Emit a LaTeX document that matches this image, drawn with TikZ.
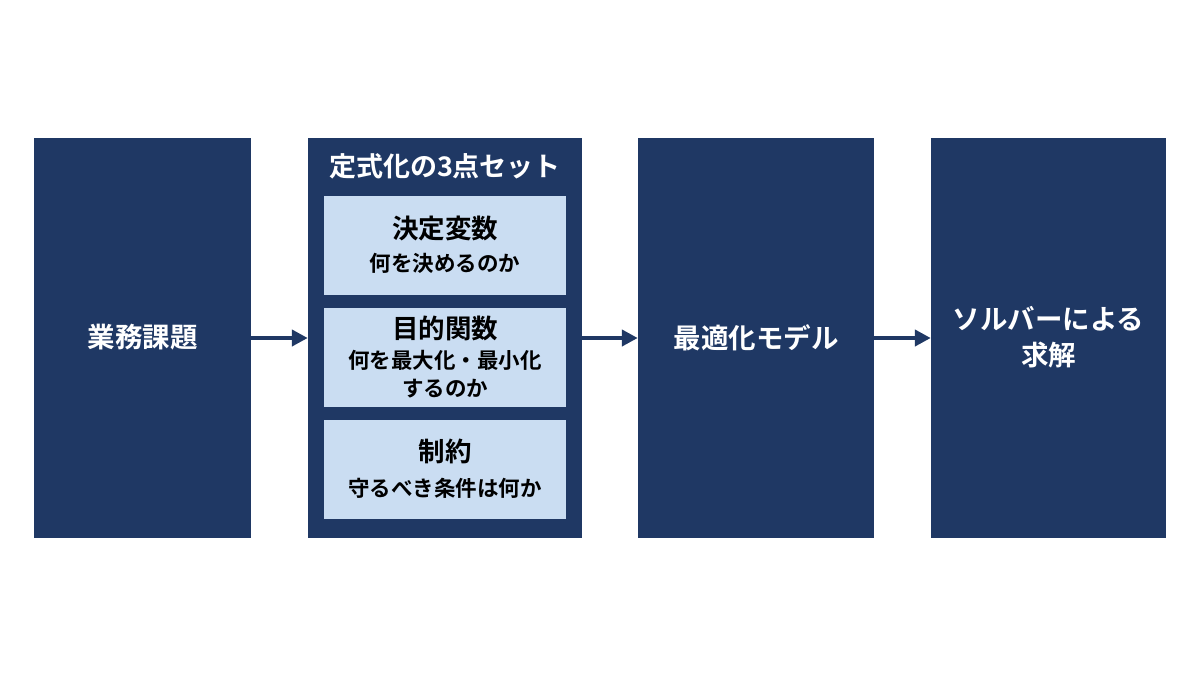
\documentclass[tikz,border=0pt]{standalone}
\usepackage{fontspec}
\setmainfont{Noto Sans CJK JP}[BoldFont={Noto Sans CJK JP Bold}]
\usetikzlibrary{arrows.meta}
\definecolor{navy}{HTML}{1F3864}
\definecolor{lightblue}{HTML}{CADDF2}
\newcommand\myheadfont{\bfseries\fontsize{26.5}{30}\selectfont}
\begin{document}
\begin{tikzpicture}[x=1pt,y=-1pt,
  bigbox/.style={fill=navy,draw=none,inner sep=0pt,text=white,font=\bfseries\fontsize{27.5}{36}\selectfont,align=center},
  subbox/.style={fill=lightblue,draw=none,inner sep=0pt,text=black,align=center,font=\bfseries\fontsize{21.5}{28}\selectfont},
  flowarrow/.style={draw=navy,line width=4pt,-{Triangle[length=16pt,width=16pt]}}]
\useasboundingbox (0,0) rectangle (1200,675);
\fill[white] (0,0) rectangle (1200,675);
% outer boxes
\node[bigbox,minimum width=217pt,minimum height=400pt] (b1) at (142.5,337.5) {業務課題};
\node[bigbox,minimum width=274pt,minimum height=400pt] (b2) at (445,337.5) {};
\node[bigbox,minimum width=236pt,minimum height=400pt] (b3) at (756,337.5) {最適化モデル};
\node[bigbox,minimum width=235pt,minimum height=400pt] (b4) at (1048.5,337.5) {ソルバーによる\\求解};
% title of box 2
\node[text=white,font=\bfseries\fontsize{27}{30}\selectfont] (t2) at (445,166) {定式化の3点セット};
% inner boxes
\node[subbox,minimum width=242pt,minimum height=99pt] (s1) at (445,245)
  {{\myheadfont 決定変数}\\[5pt]何を決めるのか};
\node[subbox,minimum width=242pt,minimum height=99pt] (s2) at (445,357)
  {{\myheadfont 目的関数}\\[2pt]何を最大化・最小化\\するのか};
\node[subbox,minimum width=242pt,minimum height=99pt] (s3) at (445,469)
  {{\myheadfont 制約}\\[7pt]守るべき条件は何か};
% arrows
\draw[flowarrow] (b1.east |- 0,338) -- (b2.west |- 0,338);
\draw[flowarrow] (b2.east |- 0,338) -- (b3.west |- 0,338);
\draw[flowarrow] (b3.east |- 0,338) -- (b4.west |- 0,338);
\end{tikzpicture}
\end{document}
